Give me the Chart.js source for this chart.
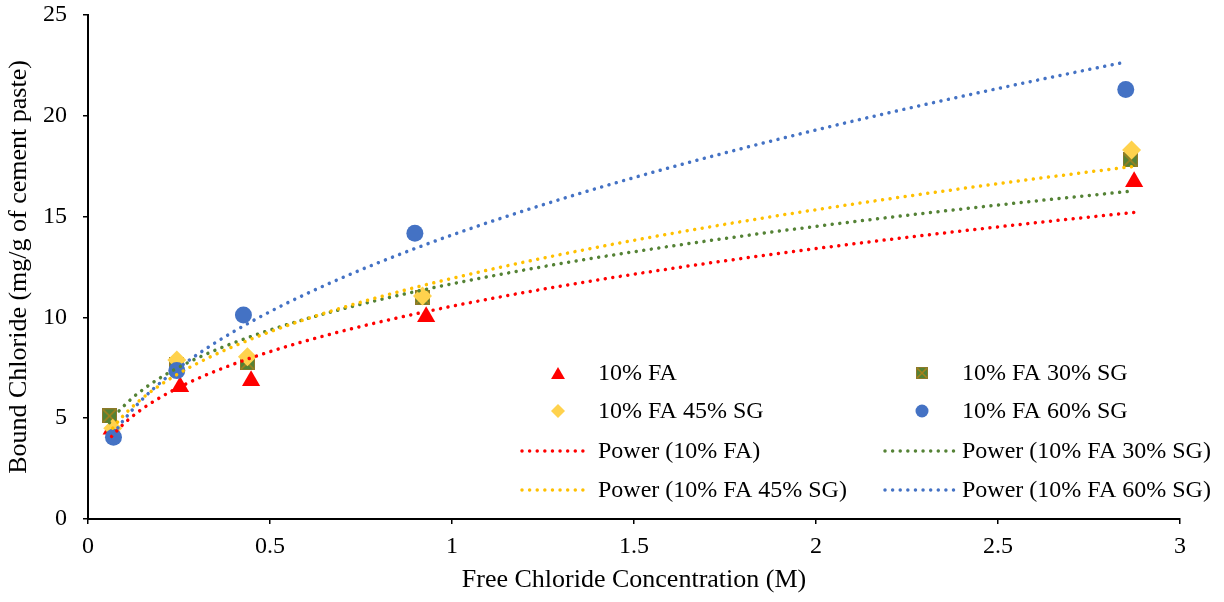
<!DOCTYPE html>
<html>
<head>
<meta charset="utf-8">
<script src="https://cdn.jsdelivr.net/npm/chart.js@4.4.1/dist/chart.umd.min.js"></script>
<style>
  html, body { margin: 0; padding: 0; background: #fff; }
</style>
</head>
<body>
<canvas id="chartCanvas" width="1224" height="602"></canvas>
<script>
// Measured points, free chloride (M) vs bound chloride (mg/g of cement paste)
var fa10X = [0.065, 0.253, 0.448, 0.929, 2.874];
var fa10Y = [4.45, 6.56, 6.86, 10.03, 16.73];
var sg30X = [0.059, 0.244, 0.438, 0.919, 2.863];
var sg30Y = [5.11, 7.64, 7.75, 11.0, 17.81];
var sg45X = [0.068, 0.244, 0.438, 0.919, 2.867];
var sg45Y = [4.5, 7.89, 8.05, 11.06, 18.3];
var sg60X = [0.07, 0.244, 0.427, 0.898, 2.851];
var sg60Y = [4.05, 7.36, 10.12, 14.17, 21.31];

var seriesNames = ['10% FA', '10% FA 30% SG', '10% FA 45% SG', '10% FA 60% SG'];
var xTickStep = 0.5;
var yTickStep = 5;

var serif = "'Liberation Serif', 'Times New Roman', serif";
var colors = {
  fa10: '#FF0000',
  sg30: '#548235',
  sg45: '#FFD24D',
  sg60: '#4472C4'
};
var trendColors = ['#FF0000', '#548235', '#FFC000', '#4472C4'];

// square marker with a cross through it
function makeSquareMarker(size) {
  var c = document.createElement('canvas');
  c.width = size; c.height = size;
  var g = c.getContext('2d');
  g.fillStyle = '#548235';
  g.fillRect(0, 0, size, size);
  g.strokeStyle = '#A8801C';
  g.lineWidth = 1.6;
  g.beginPath();
  g.moveTo(1, 1); g.lineTo(size - 1, size - 1);
  g.moveTo(size - 1, 1); g.lineTo(1, size - 1);
  g.stroke();
  g.strokeStyle = '#8C7A2A';
  g.lineWidth = 1;
  g.strokeRect(0.5, 0.5, size - 1, size - 1);
  return c;
}
var squareBig = makeSquareMarker(15);
var squareSmall = makeSquareMarker(12);

function toPoints(xs, ys) {
  var pts = [];
  for (var i = 0; i < xs.length; i++) pts.push({ x: xs[i], y: ys[i] });
  return pts;
}

// least squares fit of y = a * x^b (log-log), like a spreadsheet power trendline
function powerFit(xs, ys) {
  var n = xs.length, sx = 0, sy = 0, sxx = 0, sxy = 0;
  for (var i = 0; i < n; i++) {
    var lx = Math.log(xs[i]), ly = Math.log(ys[i]);
    sx += lx; sy += ly; sxx += lx * lx; sxy += lx * ly;
  }
  var b = (n * sxy - sx * sy) / (n * sxx - sx * sx);
  var a = Math.exp((sy - b * sx) / n);
  return { a: a, b: b };
}

function trendPoints(xs, ys) {
  var fit = powerFit(xs, ys);
  var lo = Math.min.apply(null, xs), hi = Math.max.apply(null, xs);
  var pts = [];
  var steps = 120;
  for (var i = 0; i <= steps; i++) {
    var x = lo + (hi - lo) * i / steps;
    pts.push({ x: x, y: fit.a * Math.pow(x, fit.b) });
  }
  return pts;
}

function trendDataset(label, xs, ys, color, order) {
  return {
    type: 'line',
    label: label,
    data: trendPoints(xs, ys),
    borderColor: color,
    borderWidth: 3.5,
    borderDash: [0.01, 7.6],
    borderCapStyle: 'round',
    pointRadius: 0,
    fill: false,
    tension: 0,
    order: order
  };
}

var datasets = [
  { type: 'scatter', label: seriesNames[0], data: toPoints(fa10X, fa10Y),
    pointStyle: 'triangle', pointRadius: 10.5, backgroundColor: colors.fa10, borderColor: colors.fa10, borderWidth: 0, order: 8 },
  { type: 'scatter', label: seriesNames[1], data: toPoints(sg30X, sg30Y),
    pointStyle: squareBig, pointRadius: 8, backgroundColor: colors.sg30, order: 7 },
  { type: 'scatter', label: seriesNames[2], data: toPoints(sg45X, sg45Y),
    pointStyle: 'rectRot', pointRadius: 9.5, backgroundColor: colors.sg45, borderColor: colors.sg45, borderWidth: 0, order: 6 },
  { type: 'scatter', label: seriesNames[3], data: toPoints(sg60X, sg60Y),
    pointStyle: 'circle', pointRadius: 8.5, backgroundColor: colors.sg60, borderColor: colors.sg60, borderWidth: 0, order: 5 },
  trendDataset('Power (' + seriesNames[0] + ')', fa10X, fa10Y, trendColors[0], 4),
  trendDataset('Power (' + seriesNames[1] + ')', sg30X, sg30Y, trendColors[1], 3),
  trendDataset('Power (' + seriesNames[2] + ')', sg45X, sg45Y, trendColors[2], 2),
  trendDataset('Power (' + seriesNames[3] + ')', sg60X, sg60Y, trendColors[3], 1)
];

// two-column legend sitting inside the plot area
var legendCols = [{ mark: 558, lineFrom: 522, lineTo: 590, text: 598 },
                  { mark: 922, lineFrom: 885, lineTo: 955, text: 962 }];
var legendRows = [373, 411, 451, 490];
var legendOrder = [0, 1, 2, 3, 4, 5, 6, 7];
var legendRadius = { triangle: 8, rectRot: 7, circle: 6.5 };

var insideLegend = {
  id: 'insideLegend',
  afterDraw: function(chart) {
    var ctx = chart.ctx;
    ctx.save();
    ctx.font = '24px ' + serif;
    ctx.textBaseline = 'middle';
    ctx.fillStyle = '#000';
    legendOrder.forEach(function(dsIndex, k) {
      var ds = chart.data.datasets[dsIndex];
      var col = legendCols[k % 2];
      var y = legendRows[Math.floor(k / 2)];
      if (ds.type === 'scatter') {
        ctx.fillStyle = ds.backgroundColor;
        ctx.strokeStyle = ds.backgroundColor;
        var style = ds.pointStyle === squareBig ? squareSmall : ds.pointStyle;
        var r = legendRadius[style] || 7;
        var dy = style === 'triangle' ? 2 : 0;
        Chart.helpers.drawPoint(ctx, { pointStyle: style, radius: r, rotation: 0, borderWidth: 0 }, col.mark, y + dy);
      } else {
        ctx.strokeStyle = ds.borderColor;
        ctx.lineWidth = 3.5;
        ctx.lineCap = 'round';
        ctx.setLineDash([0.01, 7.6]);
        ctx.beginPath();
        ctx.moveTo(col.lineFrom, y);
        ctx.lineTo(col.lineTo, y);
        ctx.stroke();
        ctx.setLineDash([]);
      }
      ctx.fillStyle = '#000';
      ctx.fillText(ds.label, col.text, y + 1);
    });
    ctx.restore();
  }
};

function plainTick(value) {
  return String(Number(value.toFixed(2)));
}

var chartCanvas = document.getElementById('chartCanvas');
var chart = new Chart(chartCanvas, {
  data: { datasets: datasets },
  plugins: [insideLegend],
  options: {
    responsive: false,
    animation: false,
    layout: { padding: { top: 15, right: 44, bottom: 0, left: 0 } },
    plugins: { legend: { display: false }, tooltip: { enabled: false } },
    scales: {
      x: {
        type: 'linear', min: 0, max: 3,
        ticks: { stepSize: xTickStep, color: '#000', font: { family: serif, size: 24 }, padding: 8, maxRotation: 0, callback: plainTick },
        grid: { drawOnChartArea: false, color: '#000', tickLength: 5, lineWidth: 1.5 },
        border: { color: '#000', width: 2 },
        title: { display: true, text: 'Free Chloride Concentration (M)', color: '#000',
                 font: { family: serif, size: 26 }, padding: { top: 4, bottom: 6 } },
        afterFit: function(s) { s.height = 83; s.paddingLeft = 0; s.paddingRight = 0; }
      },
      y: {
        type: 'linear', min: 0, max: 25,
        ticks: { stepSize: yTickStep, color: '#000', font: { family: serif, size: 24 }, padding: 16, callback: plainTick },
        grid: { drawOnChartArea: false, color: '#000', tickLength: 5, lineWidth: 1.5 },
        border: { color: '#000', width: 2 },
        title: { display: true, text: 'Bound Chloride (mg/g of cement paste)', color: '#000',
                 font: { family: serif, size: 26 }, padding: { top: 4, bottom: 4 } },
        afterFit: function(s) { s.width = 88; s.paddingTop = 0; s.paddingBottom = 0; }
      }
    }
  }
});
</script>
</body>
</html>
